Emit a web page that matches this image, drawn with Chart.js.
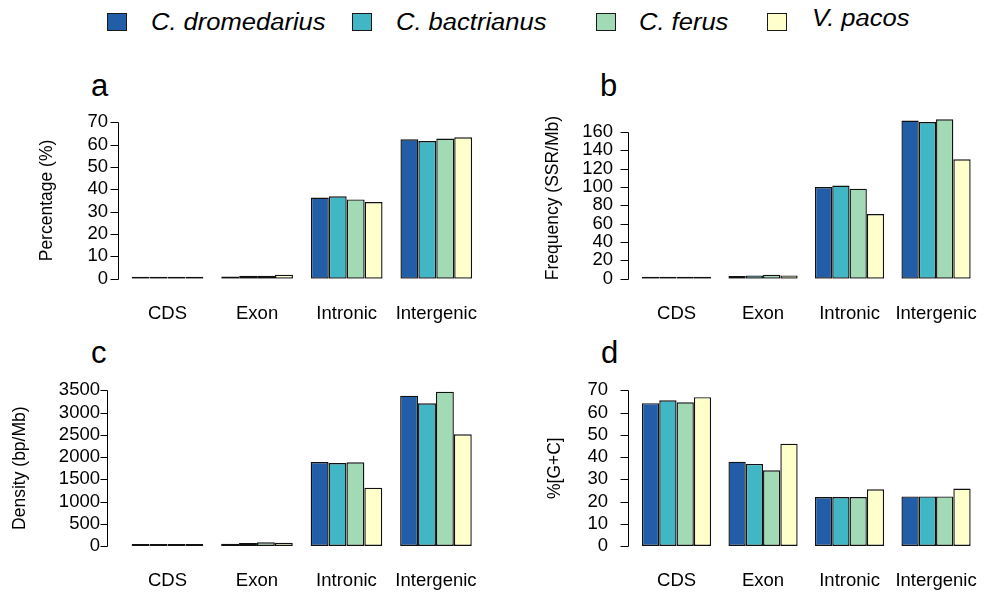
<!DOCTYPE html>
<html>
<head>
<meta charset="utf-8">
<script src="https://cdn.jsdelivr.net/npm/chart.js@4.4.1/dist/chart.umd.min.js"></script>
<style>
  html, body { margin: 0; padding: 0; background: #fff; }
  #wrap { position: relative; width: 1002px; height: 592px; overflow: hidden; font-family: "Liberation Sans", Arial, sans-serif; }
  #wrap canvas { position: absolute; left: 0; top: 0; }
  .key { position: absolute; box-sizing: border-box; width: 20px; height: 18px; border: 1px solid #1a1a1a; }
  .name { position: absolute; font-style: italic; font-size: 23px; line-height: 23px; white-space: nowrap; color: #000; transform-origin: 0 0; transform: scaleX(1.11); }
  .tag { position: absolute; font-size: 31px; line-height: 31px; color: #000; }
</style>
</head>
<body>
<div id="wrap">
  <div class="key" style="left:107px;top:13px;background:#225EA8"></div>
  <div class="name" style="left:151px;top:10.5px">C. dromedarius</div>
  <div class="key" style="left:352px;top:13px;background:#41B6C4"></div>
  <div class="name" style="left:396px;top:10.5px">C. bactrianus</div>
  <div class="key" style="left:596px;top:13px;background:#A1DAB4"></div>
  <div class="name" style="left:639px;top:10.5px">C. ferus</div>
  <div class="key" style="left:767px;top:13px;background:#FFFFCC"></div>
  <div class="name" style="left:812px;top:7px">V. pacos</div>

  <div class="tag" style="left:91px;top:69.7px">a</div>
  <div class="tag" style="left:600px;top:69.7px">b</div>
  <div class="tag" style="left:91px;top:336.7px">c</div>
  <div class="tag" style="left:601px;top:336.7px">d</div>
</div>
<script>
// Genomic regions on the x axis and the four species
const categories = ['CDS', 'Exon', 'Intronic', 'Intergenic'];
const species = ['C. dromedarius', 'C. bactrianus', 'C. ferus', 'V. pacos'];
const palette = ['#225EA8', '#41B6C4', '#A1DAB4', '#FFFFCC'];

// a: share of SSRs per region (%)
const percentDromedarius = [0.3, 1.0, 36.3, 62.4];
const percentBactrianus  = [0.3, 1.3, 36.9, 61.6];
const percentFerus       = [0.3, 1.3, 35.5, 62.7];
const percentPacos       = [0.6, 1.8, 34.3, 63.3];
const percentTicks = [0, 10, 20, 30, 40, 50, 60, 70];

// b: SSR frequency (SSR/Mb)
const freqDromedarius = [0.5, 2.9, 100.0, 172.4];
const freqBactrianus  = [0.5, 3.6, 101.5, 170.9];
const freqFerus       = [0.5, 4.4, 98.2, 173.8];
const freqPacos       = [1.0, 3.6, 70.5, 130.2];
const freqTicks = [0, 20, 40, 60, 80, 100, 120, 140, 160];

// c: SSR density (bp/Mb)
const densDromedarius = [15, 52, 1888, 3380];
const densBactrianus  = [15, 67, 1866, 3208];
const densFerus       = [15, 82, 1881, 3470];
const densPacos       = [20, 75, 1311, 2511];
const densTicks = [0, 500, 1000, 1500, 2000, 2500, 3000, 3500];

// d: G+C content of each region (%)
const gcDromedarius = [64.2, 37.9, 22.0, 22.3];
const gcBactrianus  = [65.5, 36.9, 22.0, 22.3];
const gcFerus       = [64.6, 34.0, 22.0, 22.3];
const gcPacos       = [66.9, 46.0, 25.5, 25.8];
const gcTicks = [0, 10, 20, 30, 40, 50, 60, 70];

const FONT = '"Liberation Sans", Arial, sans-serif';
const TICK_SIZE = 18.5;
const TITLE_SIZE = 17.5;
const X_BOX = 46;

// Panel frames: plot area, where the y axis line sits, title centre, label edge
const panels = [
  { title: 'Percentage (%)', series: [percentDromedarius, percentBactrianus, percentFerus, percentPacos],
    ticks: percentTicks, max: 70,
    area: { left: 122.7, right: 481.1, top: 122.3, bottom: 278.7 }, axisX: 118, titleX: 47.5, labelRight: 108, tickLen: 8 },
  { title: 'Frequency (SSR/Mb)', series: [freqDromedarius, freqBactrianus, freqFerus, freqPacos],
    ticks: freqTicks, max: 176,
    area: { left: 633.3, right: 991.3, top: 117.3, bottom: 278.7 }, axisX: 628, titleX: 553, labelRight: 613, tickLen: 8 },
  { title: 'Density (bp/Mb)', series: [densDromedarius, densBactrianus, densFerus, densPacos],
    ticks: densTicks, max: 3500,
    area: { left: 122.7, right: 480.7, top: 390.3, bottom: 546 }, axisX: 106.5, titleX: 20.5, labelRight: 100, tickLen: 7 },
  { title: '%[G+C]', series: [gcDromedarius, gcBactrianus, gcFerus, gcPacos],
    ticks: gcTicks, max: 70,
    area: { left: 633.3, right: 991.3, top: 390.3, bottom: 546 }, axisX: 628, titleX: 555, labelRight: 608, tickLen: 8 }
];

// Base-graphics style y axis: the line only spans the first to last tick
function axisPlugin(p) {
  return {
    id: 'rAxis',
    afterDraw(chart) {
      const y = chart.scales.y;
      const ctx = chart.ctx;
      const x = Math.round(p.axisX) + 0.5;
      const py = v => Math.round(y.getPixelForValue(v)) + 0.5;
      ctx.save();
      ctx.strokeStyle = '#000';
      ctx.lineWidth = 1;
      ctx.beginPath();
      ctx.moveTo(x, py(p.ticks[0]));
      ctx.lineTo(x, py(p.ticks[p.ticks.length - 1]));
      p.ticks.forEach(v => {
        ctx.moveTo(x - p.tickLen, py(v));
        ctx.lineTo(x, py(v));
      });
      ctx.stroke();
      ctx.restore();
    }
  };
}

function makeChart(p) {
  const cv = document.createElement('canvas');
  cv.width = 1002;
  cv.height = 592;
  document.getElementById('wrap').appendChild(cv);
  const padLeft = p.titleX - TITLE_SIZE * 1.2 / 2;
  const yWidth = p.area.left - padLeft;
  new Chart(cv, {
    type: 'bar',
    data: {
      labels: categories,
      datasets: species.map((s, i) => ({
        label: s,
        data: p.series[i],
        backgroundColor: palette[i],
        borderColor: '#111',
        borderWidth: 1.4,
        borderSkipped: false,
        minBarLength: 2,
        categoryPercentage: 0.8,
        barPercentage: 1
      }))
    },
    options: {
      responsive: false,
      animation: false,
      devicePixelRatio: 1,
      events: [],
      layout: { padding: { left: padLeft, right: 1002 - p.area.right, top: p.area.top, bottom: Math.max(0, 592 - p.area.bottom - X_BOX) } },
      plugins: { legend: { display: false }, tooltip: { enabled: false } },
      scales: {
        x: {
          grid: { display: false, drawTicks: false },
          border: { display: false },
          ticks: { color: '#000', font: { family: FONT, size: TICK_SIZE }, padding: 24, maxRotation: 0, autoSkip: false },
          afterFit(s) { s.height = Math.min(X_BOX, 592 - p.area.bottom); }
        },
        y: {
          min: 0,
          max: p.max,
          grid: { display: false, drawTicks: false },
          border: { display: false },
          afterBuildTicks(s) { s.ticks = p.ticks.map(v => ({ value: v })); },
          ticks: { color: '#000', font: { family: FONT, size: TICK_SIZE }, padding: p.area.left - p.labelRight,
                   autoSkip: false, callback: v => String(v) },
          title: { display: true, text: p.title, color: '#000', font: { family: FONT, size: TITLE_SIZE }, padding: 0 },
          afterFit(s) { s.width = yWidth; }
        }
      }
    },
    plugins: [axisPlugin(p)]
  });
}

panels.forEach(makeChart);
</script>
</body>
</html>
